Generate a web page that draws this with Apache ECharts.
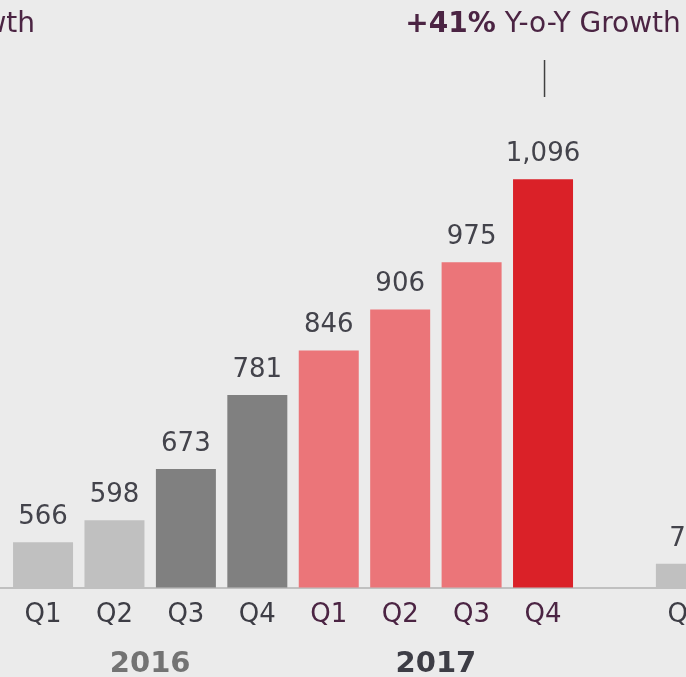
<!DOCTYPE html>
<html>
<head>
<meta charset="utf-8">
<script src="https://cdn.jsdelivr.net/npm/echarts@6/dist/echarts.min.js"></script>
<style>
  html, body { margin: 0; padding: 0; background: #ebebeb; overflow: hidden; width: 686px; height: 677px; }
  /* chart is wider than the window: it is a crop of a longer strip */
  #chart { position: absolute; left: -72px; top: 0; width: 798px; height: 677px; }
</style>
</head>
<body>
<div id="chart"></div>
<script>
// categories: one blank slot on the left, 2016 + 2017 quarters, a gap, then the next panel's first quarter
const quarters = ['', 'Q1', 'Q2', 'Q3', 'Q4', 'Q1', 'Q2', 'Q3', 'Q4', '', 'Q1'];
const revenue = [null, 566, 598, 673, 781, 846, 906, 975, 1096, null, null];
const nextPanel = [null, null, null, null, null, null, null, null, null, null, 74];
const years = ['2016', '2017'];
const growth = ['+41%', ' Y-o-Y Growth'];

// styles
const barColors = ['', '#c0c0c0', '#c0c0c0', '#808080', '#808080', '#eb7579', '#eb7579', '#eb7579', '#da2128', '', '#c0c0c0'];
const qColors = ['', '#3d3d45', '#3d3d45', '#3d3d45', '#3d3d45', '#4b2443', '#4b2443', '#4b2443', '#4b2443', '', '#3d3d45'];
const yearColors = ['#737373', '#3d3d45'];
const font = '"DejaVu Sans", Verdana, sans-serif';
const shift = 72; // offset of the chart box left of the window

let myChart = echarts.init(document.getElementById('chart'));

myChart.setOption({
  backgroundColor: '#ebebeb',
  animation: false,
  grid: {
    left: 7.9,
    right: 4.4,
    top: 108,
    bottom: 89.5
  },
  xAxis: {
    type: 'category',
    data: quarters.map((q, i) => ({ value: q, textStyle: { color: qColors[i] } })),
    axisLine: { lineStyle: { color: '#c0c0c0', width: 2 } },
    axisTick: { show: false },
    axisLabel: {
      interval: 0,
      margin: 15,
      fontSize: 26,
      fontFamily: font
    }
  },
  yAxis: [{
    type: 'value',
    min: 500,
    max: 1200,
    show: false
  }, {
    type: 'value',
    min: 0,
    max: 1500,
    show: false
  }],
  series: [{
    type: 'bar',
    barWidth: 60,
    data: revenue.map((v, i) => ({ value: v, itemStyle: { color: barColors[i] } })),
    label: {
      show: true,
      position: 'top',
      distance: 12,
      fontSize: 26,
      fontFamily: font,
      color: '#43434b',
      formatter: p => p.value.toLocaleString('en-US')
    }
  }, {
    type: 'bar',
    yAxisIndex: 1,
    barWidth: 60,
    barGap: '-100%',
    data: nextPanel.map((v, i) => ({ value: v, itemStyle: { color: barColors[i] } })),
    label: {
      show: true,
      position: 'top',
      distance: 12,
      fontSize: 26,
      fontFamily: font,
      color: '#43434b'
    }
  }]
});

// annotations placed from the category axis
function px(idx) {
  return myChart.convertToPixel({ xAxisIndex: 0 }, idx);
}
const yearX = [(px(2) + px(3)) / 2, (px(6) + px(7)) / 2];
const q4x = px(8);

myChart.setOption({
  graphic: [
    ...years.map((y, i) => ({
      type: 'text',
      x: yearX[i],
      y: 650,
      style: {
        text: y,
        fontSize: 29,
        fontWeight: 'bold',
        fontFamily: font,
        fill: yearColors[i],
        align: 'center',
        verticalAlign: 'top'
      }
    })),
    {
      type: 'text',
      x: q4x,
      y: 11,
      style: {
        text: '{b|' + growth[0] + '}{r|' + growth[1] + '}',
        align: 'center',
        verticalAlign: 'top',
        rich: {
          b: { fontSize: 28, fontWeight: 'bold', fontFamily: font, fill: '#4b2443', color: '#4b2443' },
          r: { fontSize: 28, fontFamily: font, fill: '#4b2443', color: '#4b2443' }
        }
      }
    },
    {
      // previous panel's annotation, clipped at the left edge
      type: 'text',
      x: shift + 35,
      y: 11,
      style: {
        text: growth[1].trim(),
        fontSize: 28,
        fontFamily: font,
        fill: '#4b2443',
        align: 'right',
        verticalAlign: 'top'
      }
    },
    {
      type: 'line',
      shape: { x1: q4x + 1.5, y1: 60, x2: q4x + 1.5, y2: 97 },
      style: { stroke: '#404040', lineWidth: 1.5 }
    }
  ]
});
</script>
</body>
</html>
